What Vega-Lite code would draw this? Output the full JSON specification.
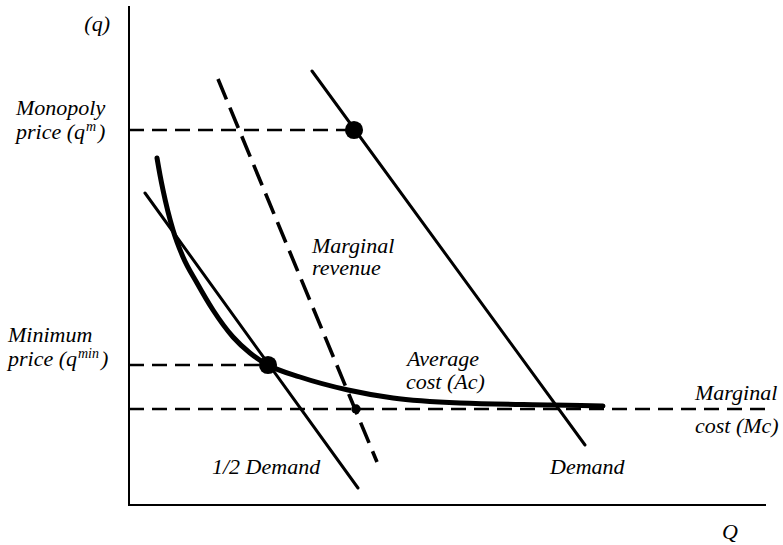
{
  "$schema": "https://vega.github.io/schema/vega-lite/v6.json",
  "width": 783,
  "height": 545,
  "autosize": "none",
  "padding": 0,
  "background": "white",
  "config": {"view": {"stroke": null}},
  "datasets": {
    "axes": [
      {"Q": 0, "q": 0, "Q2": 0, "q2": 498},
      {"Q": 0, "q": 0, "Q2": 636, "q2": 0}
    ],
    "demand": [
      {"name": "Demand", "Q": 183, "q": 434, "Q2": 456, "q2": 60},
      {"name": "1/2 Demand", "Q": 16, "q": 312, "Q2": 229, "q2": 17}
    ],
    "levels": [
      {"name": "Monopoly price", "Q": 0, "q": 375, "Q2": 225, "q2": 375},
      {"name": "Minimum price", "Q": 0, "q": 140, "Q2": 139, "q2": 140},
      {"name": "Marginal cost", "Q": 0, "q": 96, "Q2": 636, "q2": 96}
    ],
    "mr": [
      {"name": "Marginal revenue", "Q": 89, "q": 426, "Q2": 248, "q2": 43}
    ],
    "ac": [
      {"Q": 28, "q": 347},
      {"Q": 31, "q": 330},
      {"Q": 34, "q": 315},
      {"Q": 44, "q": 275},
      {"Q": 54, "q": 248},
      {"Q": 68, "q": 222},
      {"Q": 84, "q": 195},
      {"Q": 104, "q": 168},
      {"Q": 121, "q": 152},
      {"Q": 139, "q": 140},
      {"Q": 171, "q": 128},
      {"Q": 219, "q": 115},
      {"Q": 264, "q": 107},
      {"Q": 331, "q": 102},
      {"Q": 424, "q": 100},
      {"Q": 474, "q": 99}
    ],
    "bigdots": [
      {"Q": 225, "q": 375},
      {"Q": 139, "q": 140}
    ],
    "smalldots": [
      {"Q": 227, "q": 96}
    ],
    "labels": [
      {"t": "(q)", "Q": -19, "q": 474, "a": "right"},
      {"t": "Monopoly", "Q": -113, "q": 390, "a": "left"},
      {"t": "price (q", "Q": -113, "q": 366, "a": "left"},
      {"t": ")", "Q": -31, "q": 366, "a": "left"},
      {"t": "Minimum", "Q": -121, "q": 163, "a": "left"},
      {"t": "price (q", "Q": -121, "q": 139, "a": "left"},
      {"t": ")", "Q": -28, "q": 139, "a": "left"},
      {"t": "Marginal", "Q": 183, "q": 252, "a": "left"},
      {"t": "revenue", "Q": 183, "q": 230, "a": "left"},
      {"t": "Average", "Q": 278, "q": 139, "a": "left"},
      {"t": "cost (Ac)", "Q": 277, "q": 116, "a": "left"},
      {"t": "Marginal", "Q": 566, "q": 105, "a": "left"},
      {"t": "cost (Mc)", "Q": 566, "q": 72, "a": "left"},
      {"t": "1/2 Demand", "Q": 83, "q": 31, "a": "left"},
      {"t": "Demand", "Q": 421, "q": 31, "a": "left"},
      {"t": "Q", "Q": 601, "q": -34, "a": "center"}
    ],
    "supers": [
      {"t": "m", "Q": -43, "q": 374},
      {"t": "min", "Q": -51, "q": 147}
    ]
  },
  "encoding": {
    "x": {"field": "Q", "type": "quantitative", "scale": {"domain": [-129, 654], "nice": false, "zero": false}, "axis": null},
    "y": {"field": "q", "type": "quantitative", "scale": {"domain": [-40, 505], "nice": false, "zero": false}, "axis": null}
  },
  "layer": [
    {
      "data": {"name": "axes"},
      "mark": {"type": "rule", "color": "black", "strokeWidth": 2, "strokeCap": "square"},
      "encoding": {"x2": {"field": "Q2"}, "y2": {"field": "q2"}}
    },
    {
      "data": {"name": "levels"},
      "mark": {"type": "rule", "color": "black", "strokeWidth": 2.5, "strokeDash": [15, 8]},
      "encoding": {"x2": {"field": "Q2"}, "y2": {"field": "q2"}}
    },
    {
      "data": {"name": "mr"},
      "mark": {"type": "rule", "color": "black", "strokeWidth": 3.6, "strokeDash": [22, 9]},
      "encoding": {"x2": {"field": "Q2"}, "y2": {"field": "q2"}}
    },
    {
      "data": {"name": "demand"},
      "mark": {"type": "rule", "color": "black", "strokeWidth": 3, "strokeCap": "round"},
      "encoding": {"x2": {"field": "Q2"}, "y2": {"field": "q2"}}
    },
    {
      "data": {"name": "ac"},
      "mark": {"type": "line", "color": "black", "strokeWidth": 5, "interpolate": "monotone", "strokeCap": "round"},
      "encoding": {}
    },
    {
      "data": {"name": "bigdots"},
      "mark": {"type": "circle", "color": "black", "opacity": 1, "size": 330},
      "encoding": {}
    },
    {
      "data": {"name": "smalldots"},
      "mark": {"type": "circle", "color": "black", "opacity": 1, "size": 90},
      "encoding": {}
    },
    {
      "data": {"name": "labels"},
      "transform": [{"filter": "datum.a === 'left'"}],
      "mark": {"type": "text", "align": "left", "font": "Liberation Serif", "fontStyle": "italic", "fontSize": 22, "baseline": "alphabetic", "color": "black"},
      "encoding": {"text": {"field": "t"}}
    },
    {
      "data": {"name": "labels"},
      "transform": [{"filter": "datum.a === 'right'"}],
      "mark": {"type": "text", "align": "right", "font": "Liberation Serif", "fontStyle": "italic", "fontSize": 22, "baseline": "alphabetic", "color": "black"},
      "encoding": {"text": {"field": "t"}}
    },
    {
      "data": {"name": "labels"},
      "transform": [{"filter": "datum.a === 'center'"}],
      "mark": {"type": "text", "align": "center", "font": "Liberation Serif", "fontStyle": "italic", "fontSize": 22, "baseline": "alphabetic", "color": "black"},
      "encoding": {"text": {"field": "t"}}
    },
    {
      "data": {"name": "supers"},
      "mark": {"type": "text", "align": "left", "font": "Liberation Serif", "fontStyle": "italic", "fontSize": 14, "baseline": "alphabetic", "color": "black"},
      "encoding": {"text": {"field": "t"}}
    }
  ]
}
